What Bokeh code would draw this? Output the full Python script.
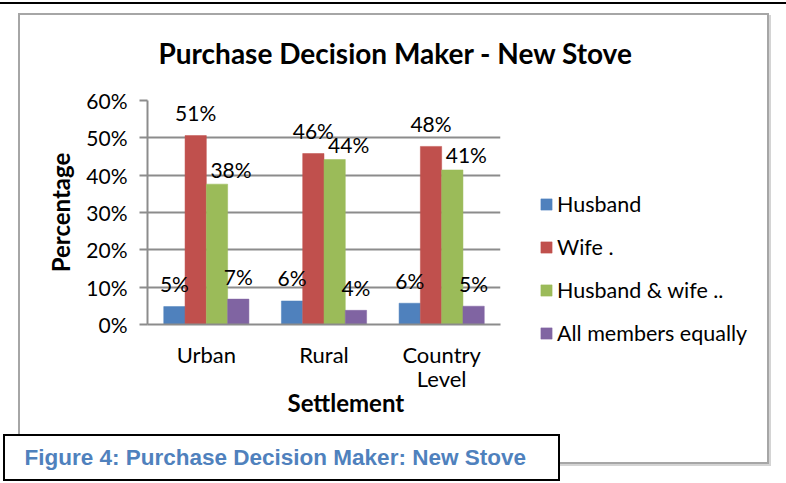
from bokeh.plotting import figure
from bokeh.models import (ColumnDataSource, FactorRange, Range1d, LabelSet, Title,
                          Legend, LegendItem, PrintfTickFormatter,
                          SingleIntervalTicker)
from bokeh.core.properties import value
from bokeh.transform import dodge
from bokeh.embed import file_html
from bokeh.resources import INLINE

# ---- data ----
settlements = ["Urban", "Rural", "Country\nLevel"]
husband = [4.8, 6.3, 5.7]
wife = [50.6, 45.8, 47.7]
husband_wife = [37.6, 44.2, 41.4]
all_members = [6.8, 3.8, 4.9]
series_names = ["Husband", "Wife .", "Husband & wife ..", "All members equally"]
colors = ["#4F81BD", "#C0504D", "#9BBB59", "#8064A2"]

title_text = "Purchase Decision Maker - New Stove"
x_title = "Settlement"
y_title = "Percentage"
caption_text = "Figure 4: Purchase Decision Maker: New Stove"

FONT = "Lato"

series = [husband, wife, husband_wife, all_members]
data = {"cat": settlements}
for i, s in enumerate(series):
    data[f"s{i}"] = s
    data[f"l{i}"] = [f"{round(v)}%" for v in s]
source = ColumnDataSource(data)

W, H = 786, 483
FL, FR, FT, FB = 147, 500, 100, 324

p = figure(x_range=FactorRange(*settlements), y_range=Range1d(0, 60),
           frame_width=FR - FL, frame_height=FB - FT,
           output_backend="svg", toolbar_location=None,
           min_border_left=FL, min_border_right=W - FR,
           min_border_top=FT, min_border_bottom=H - FB)
p.outline_line_color = None
p.background_fill_color = "white"
p.border_fill_color = None

# decorations drawn as the figure's host background: page rule, chart box, caption box
def rect(color, x, y, w, h):
    return f"linear-gradient({color},{color}) {x}px {y}px / {w}px {h}px no-repeat"

gray = "#a6a6a6"
layers = [
    rect("#ffffff", 5, 436, 553, 43),      # caption box inner fill
    rect("#000000", 3, 434, 557, 47),      # caption box border
    rect("#000000", 0, 2, 786, 2),         # page rule at top
    rect(gray, 18, 13, 751, 2),            # chart box top
    rect(gray, 18, 462, 751, 2),           # chart box bottom
    rect(gray, 18, 13, 2, 451),            # chart box left
    rect(gray, 767, 13, 2, 451),           # chart box right
    rect("#d4d4d4", 769, 15, 2, 451),      # light shadow right
    rect("#d4d4d4", 20, 464, 751, 2),      # light shadow bottom
]
p.styles = {"background": ", ".join(layers) + ", #ffffff"}

bw = 0.181
offsets = [-1.5 * bw, -0.5 * bw, 0.5 * bw, 1.5 * bw]
label_dx = [0, 0, 14, 0]
label_dy = [23, 23, 15, 23]
renderers = []
for i in range(4):
    r = p.vbar(x=dodge("cat", offsets[i], range=p.x_range), top=f"s{i}", width=bw,
               source=source, fill_color=colors[i], line_color=colors[i], line_width=0.5)
    renderers.append(r)
    ls = LabelSet(x=dodge("cat", offsets[i], range=p.x_range), y=f"s{i}", text=f"l{i}",
                  source=source, text_align="center", text_baseline="middle",
                  x_offset=label_dx[i], y_offset=label_dy[i],
                  text_font=value(FONT), text_font_size="21px", text_color="black")
    p.add_layout(ls)

# axes
grid_col = "#8c8c8c"
p.yaxis.ticker = SingleIntervalTicker(interval=10)
p.yaxis.formatter = PrintfTickFormatter(format="%d%%")
p.yaxis.axis_line_color = grid_col
p.yaxis.axis_line_width = 2
p.yaxis.major_tick_line_color = grid_col
p.yaxis.major_tick_line_width = 2
p.yaxis.major_tick_out = 8
p.yaxis.major_tick_in = 0
p.yaxis.minor_tick_line_color = None
p.yaxis.major_label_standoff = 12
p.yaxis.major_label_text_font = FONT
p.yaxis.major_label_text_font_size = "21px"
p.yaxis.major_label_text_color = "black"
p.yaxis.axis_label = y_title
p.yaxis.axis_label_text_font = FONT
p.yaxis.axis_label_text_font_style = "bold"
p.yaxis.axis_label_text_font_size = "24px"
p.yaxis.axis_label_text_color = "black"
p.yaxis.axis_label_standoff = 8

p.xaxis.axis_line_color = grid_col
p.xaxis.axis_line_width = 2
p.xaxis.major_tick_line_color = None
p.xaxis.minor_tick_line_color = None
p.xaxis.major_label_standoff = 10
p.xaxis.major_label_text_font = FONT
p.xaxis.major_label_text_font_size = "22px"
p.xaxis.major_label_text_color = "black"
p.xaxis.major_label_text_line_height = 0.9

p.xgrid.grid_line_color = None
p.ygrid.grid_line_color = grid_col
p.ygrid.grid_line_width = 2

# chart title
p.title.text = title_text
p.title.align = "left"
p.title.offset = 11
p.title.standoff = 62
p.title.text_font = FONT
p.title.text_font_style = "bold"
p.title.text_font_size = "28px"
p.title.text_color = "black"

# legend (right side panel)
items = [LegendItem(label=series_names[i], renderers=[renderers[i]]) for i in range(4)]
legend = Legend(items=items, location=(39, -23), padding=0, margin=0,
                border_line_color=None, background_fill_alpha=0,
                glyph_width=14, glyph_height=14, label_height=28, spacing=15,
                label_standoff=4, label_text_font=FONT,
                label_text_font_size="21.5px", label_text_color="black")
p.add_layout(legend, "right")

# x-axis title and caption (below panel)
p.add_layout(Title(text=x_title, align="left", offset=140, standoff=-17,
                   text_font=FONT, text_font_style="bold", text_font_size="24px",
                   text_color="black"), "below")
p.add_layout(Title(text=caption_text, align="left", offset=24 - FL, standoff=69,
                   text_font="Liberation Sans", text_font_style="bold",
                   text_font_size="22.5px", text_color="#4F81BD"), "below")

open("out.html", "w").write(file_html(p, INLINE))
